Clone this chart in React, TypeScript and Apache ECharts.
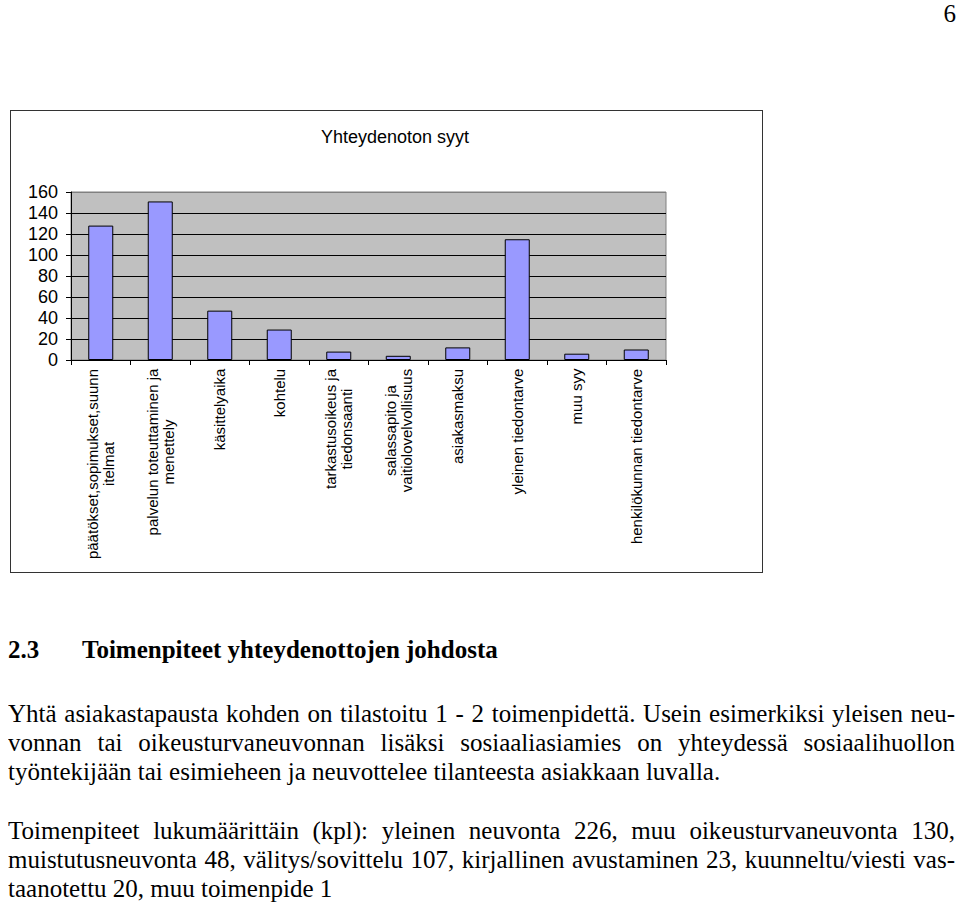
import React, { useEffect, useRef } from "react";
import * as echarts from "echarts";

// ---- data ----
const chartTitle = "Yhteydenoton syyt";
const categories = [
  "päätökset,sopimukset,suunn\nitelmat",
  "palvelun toteuttaminen ja\nmenettely",
  "käsittelyaika",
  "kohtelu",
  "tarkastusoikeus ja\ntiedonsaanti",
  "salassapito ja\nvaitiolovelvollisuus",
  "asiakasmaksu",
  "yleinen tiedontarve",
  "muu syy",
  "henkilökunnan tiedontarve",
];
const values = [128, 151, 47, 29, 8, 4, 12, 115, 6, 10];
const yMin = 0;
const yMax = 160;
const yInterval = 20;

const pageNumber = "6";
const heading = ["2.3", "Toimenpiteet yhteydenottojen johdosta"];
const paragraph1 = [
  "Yhtä asiakastapausta kohden on tilastoitu 1 - 2 toimenpidettä. Usein esimerkiksi yleisen neu-",
  "vonnan tai oikeusturvaneuvonnan lisäksi sosiaaliasiamies on yhteydessä sosiaalihuollon",
  "työntekijään tai esimieheen ja neuvottelee tilanteesta asiakkaan luvalla.",
];
const paragraph2 = [
  "Toimenpiteet lukumäärittäin (kpl): yleinen neuvonta 226, muu oikeusturvaneuvonta 130,",
  "muistutusneuvonta 48, välitys/sovittelu 107, kirjallinen avustaminen 23, kuunneltu/viesti vas-",
  "taanotettu 20, muu toimenpide 1",
];

const SANS = 'Arial, "Liberation Sans", sans-serif';
const SERIF = '"Times New Roman", "Liberation Serif", serif';
const LABEL_SIZE = 15;

function Chart() {
  const ref = useRef<HTMLDivElement>(null);
  useEffect(() => {
    if (!ref.current) return;
    const chart = echarts.init(ref.current, null, { renderer: "svg" });
    const ctx = document.createElement("canvas").getContext("2d")!;
    ctx.font = `${LABEL_SIZE}px ${SANS}`;
    const rich: Record<string, any> = {};
    categories.forEach((c, i) => {
      const w = Math.max(...c.split("\n").map((l) => ctx.measureText(l).width));
      rich["c" + i] = {
        width: Math.ceil(w) + 1,
        align: "center",
        fontSize: LABEL_SIZE,
        lineHeight: 16,
        fontFamily: SANS,
        color: "#000",
      };
    });
    const splitColors = [] as string[];
    for (let v = yMin; v <= yMax; v += yInterval) splitColors.push(v === yMax ? "#808080" : "#000");

    chart.setOption({
      animation: false,
      backgroundColor: "#fff",
      graphic: [
        {
          type: "text",
          x: 384,
          y: 26,
          style: {
            text: chartTitle,
            fontSize: 18,
            fontFamily: SANS,
            fill: "#000",
            textAlign: "center",
            textVerticalAlign: "middle",
          },
        },
      ],
      grid: {
        left: 60,
        top: 81,
        width: 595,
        height: 168,
        show: true,
        backgroundColor: "#c0c0c0",
        borderColor: "#808080",
        borderWidth: 1,
      },
      xAxis: {
        type: "category",
        data: categories,
        boundaryGap: true,
        axisLine: { show: true, lineStyle: { color: "#000", width: 1 } },
        axisTick: { show: true, inside: false, length: 5, lineStyle: { color: "#000" } },
        axisLabel: {
          interval: 0,
          rotate: 90,
          margin: 8,
          fontSize: LABEL_SIZE,
          fontFamily: SANS,
          color: "#000",
          lineHeight: 16,
          formatter: (val: string, idx: number) =>
            val
              .split("\n")
              .map((l) => `{c${idx}|${l}}`)
              .join("\n"),
          rich,
        },
        splitLine: { show: false },
      },
      yAxis: {
        type: "value",
        min: yMin,
        max: yMax,
        interval: yInterval,
        axisLine: { show: true, lineStyle: { color: "#000", width: 1 } },
        axisTick: { show: true, inside: false, length: 5, lineStyle: { color: "#000" } },
        axisLabel: { fontSize: 18, fontFamily: SANS, color: "#000", margin: 13 },
        splitLine: { show: true, lineStyle: { color: splitColors, width: 1 } },
      },
      series: [
        {
          type: "bar",
          data: values,
          barWidth: 25,
          itemStyle: { color: "#9999ff", borderColor: "#000", borderWidth: 1 },
        },
      ],
    });
    return () => chart.dispose();
  }, []);
  return <div ref={ref} style={{ width: 751, height: 461 }} />;
}

const lineStyle = (last: boolean): React.CSSProperties => ({
  height: 29,
  lineHeight: "29px",
  textAlign: last ? "left" : "justify",
  textAlignLast: last ? "left" : "justify",
  whiteSpace: last ? "nowrap" : "normal",
  overflow: "hidden",
});

export default function App() {
  return (
    <div
      style={{
        position: "absolute",
        left: 0,
        top: 0,
        width: 960,
        height: 903,
        overflow: "hidden",
        background: "#fff",
        fontFamily: SERIF,
        color: "#000",
      }}
    >
      <div
        style={{
          position: "absolute",
          right: 4,
          top: -1,
          fontSize: 25,
          lineHeight: "29px",
        }}
      >
        {pageNumber}
      </div>
      <div
        style={{
          position: "absolute",
          left: 10,
          top: 110,
          width: 753,
          height: 463,
          border: "1px solid #333",
          boxSizing: "border-box",
        }}
      >
        <Chart />
      </div>
      <div
        style={{
          position: "absolute",
          left: 8,
          top: 635,
          fontSize: 25,
          lineHeight: "29px",
          fontWeight: "bold",
          whiteSpace: "nowrap",
        }}
      >
        <span style={{ display: "inline-block", width: 74 }}>{heading[0]}</span>
        <span>{heading[1]}</span>
      </div>
      <div style={{ position: "absolute", left: 8, top: 699, width: 947, fontSize: 25 }}>
        {paragraph1.map((l, i) => (
          <div key={i} style={lineStyle(i === paragraph1.length - 1)}>
            {l}
          </div>
        ))}
      </div>
      <div style={{ position: "absolute", left: 8, top: 816, width: 947, fontSize: 25 }}>
        {paragraph2.map((l, i) => (
          <div key={i} style={lineStyle(i === paragraph2.length - 1)}>
            {l}
          </div>
        ))}
      </div>
    </div>
  );
}
